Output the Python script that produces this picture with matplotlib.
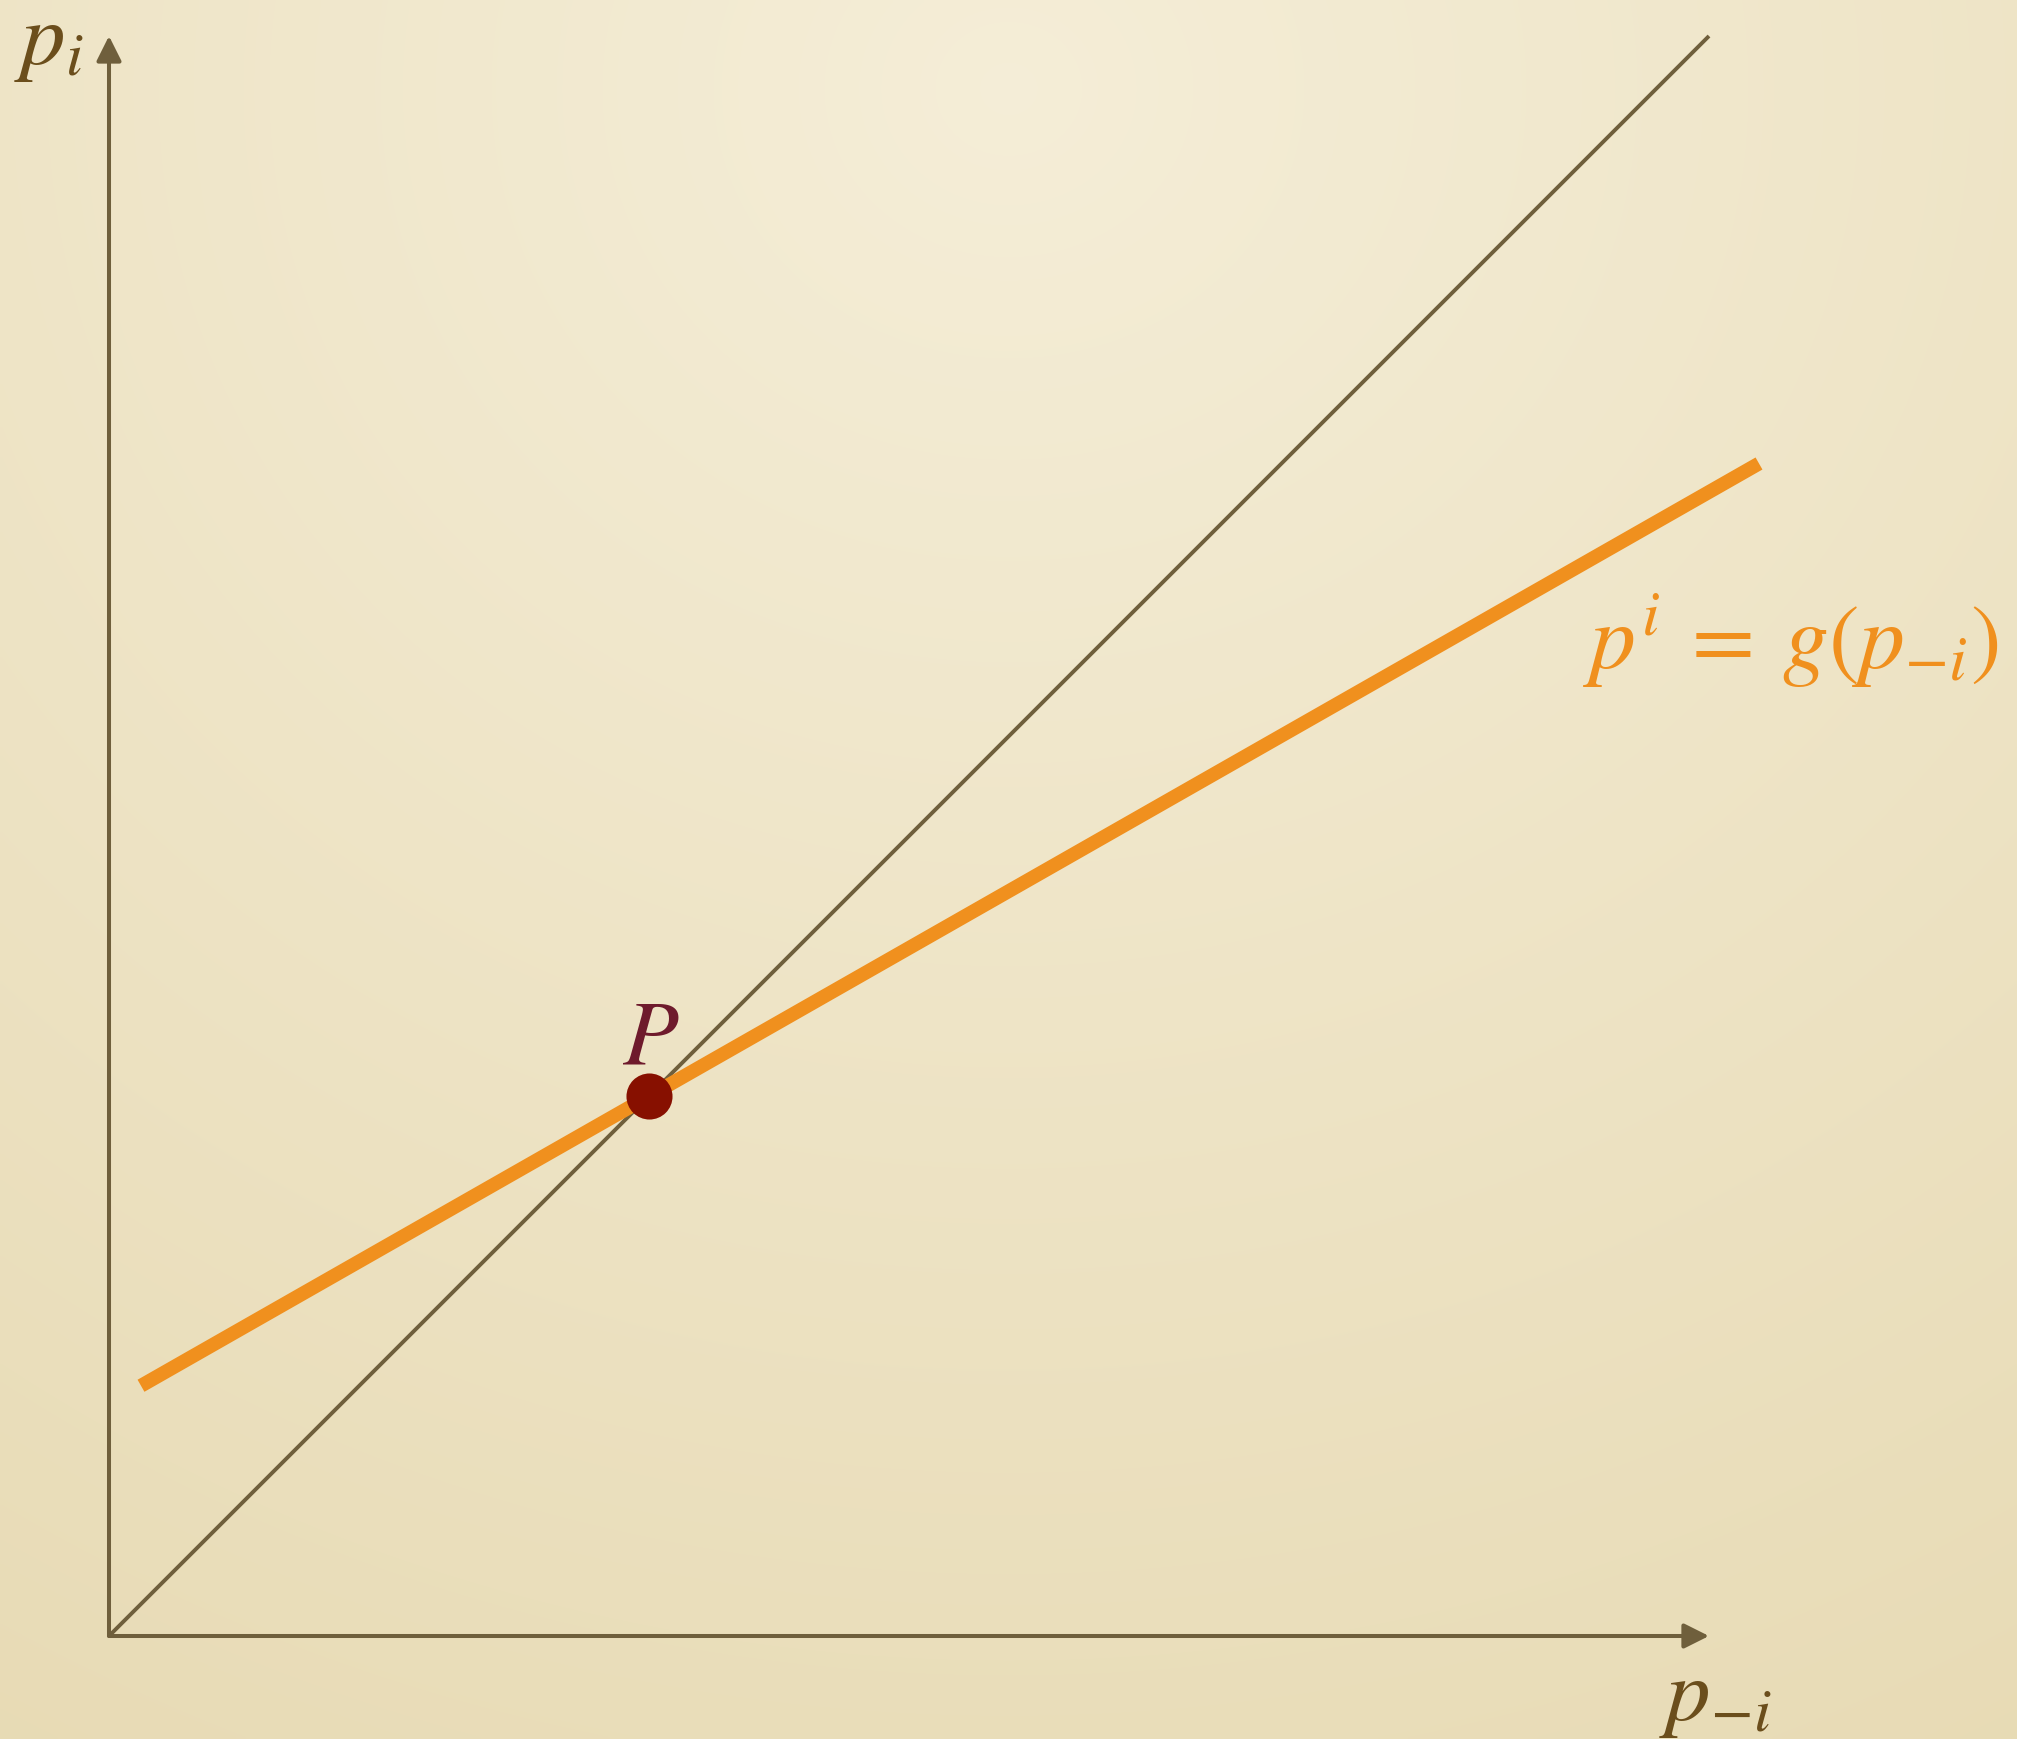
import numpy as np
import matplotlib.pyplot as plt

plt.rcParams['mathtext.fontset'] = 'stix'

# axis lengths (origin at 0, 0)
axis_len_x = 16.0
axis_len_y = 16.0

# 45 degree line p_i = p_-i
diag_x = [0.0, 16.0]
diag_y = [0.0, 16.0]

# reaction function g(p_-i) = a + b * p_-i
g_a = 2.32
g_b = 0.57
g_x = np.array([0.32, 16.5])
g_y = g_a + g_b * g_x

# fixed point P
p_star = g_a / (1 - g_b)

axis_col = '#6f5f3c'
label_col = '#6b4e1c'
orange = '#f0901e'
dot_col = '#871000'
p_col = '#6e1a2c'

fig = plt.figure(figsize=(20.17, 17.39), dpi=100)
ax = fig.add_axes([0, 0, 1, 1])
ax.set_xlim(-1.09, 19.08)
ax.set_ylim(-1.03, 16.36)
ax.axis('off')

# paper-like background, lighter near the top middle
gx, gy = np.meshgrid(np.linspace(0, 1, 400), np.linspace(0, 1, 400))
r = np.sqrt(((gx - 0.5) * 0.9) ** 2 + ((gy - 0.05) * 0.85) ** 2)
r = np.clip(r / 1.0, 0, 1)
light = np.array([0.960, 0.932, 0.845])
dark = np.array([0.905, 0.853, 0.700])
bg = light[None, None, :] * (1 - r[..., None]) + dark[None, None, :] * r[..., None]
ax.imshow(bg, extent=(-1.09, 19.08, -1.03, 16.36), origin='upper',
          aspect='auto', zorder=0, interpolation='bilinear')

arrow = dict(arrowstyle='-|>', mutation_scale=38, lw=2.9, color=axis_col,
             shrinkA=0, shrinkB=0)
ax.annotate('', xy=(axis_len_x, 0), xytext=(0, 0), arrowprops=arrow, zorder=2)
ax.annotate('', xy=(0, axis_len_y), xytext=(0, 0), arrowprops=arrow, zorder=2)

ax.plot(diag_x, diag_y, color=axis_col, lw=2.8, zorder=2, solid_capstyle='butt')
ax.plot(g_x, g_y, color=orange, lw=10, zorder=3, solid_capstyle='butt')
ax.scatter([p_star], [p_star], s=1100, color=dot_col, zorder=4, linewidths=0)

ax.text(p_star + 0.02, p_star + 0.14, r'$P$', color=p_col, fontsize=66,
        ha='center', va='bottom', zorder=5)
ax.text(-0.6, 15.95, r'$p_i$', color=label_col, fontsize=64,
        ha='center', va='center')
ax.text(16.06, -0.6, r'$p_{-i}$', color=label_col, fontsize=64,
        ha='center', va='center')
ax.text(18.9, 9.95, r'$p^i\:=\:g(p_{-i})$', color=orange, fontsize=66,
        ha='right', va='center')

fig.savefig('out.png', dpi=100)
